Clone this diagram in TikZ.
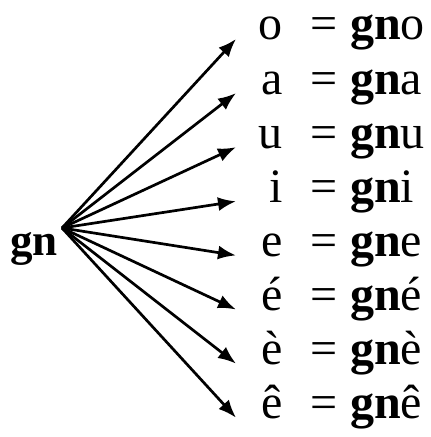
\documentclass[tikz,border=0pt]{standalone}
\usepackage{fontspec}
\setmainfont{Liberation Serif}
\usetikzlibrary{arrows.meta}
\begin{document}
\begin{tikzpicture}[x=1pt,y=1pt,
  txt/.style={inner sep=0, font=\fontsize{48}{58}\selectfont},
  conn/.style={line width=2.7pt, -{Latex[length=18pt,width=14pt]}}]
\useasboundingbox (0,0) rectangle (431,437);
\node[txt, font=\fontsize{45}{54}\selectfont, anchor=base east] (gn) at (58,181) {\textbf{gn}};
\coordinate (src) at (62,209);
\foreach \v [count=\k from 0] in {o,a,u,i,e,é,è,ê} {
  \pgfmathsetmacro\yb{437-40-\k*54.1}
  \node[txt, anchor=base east] (v\k) at (283,\yb) {\v};
  \node[txt, anchor=base] (eq\k) at (324.5,\yb) {=};
  \node[txt, anchor=base west] (w\k) at (350,\yb) {\textbf{gn}\v};
  \coordinate (t\k) at (236,\yb+1);
  \draw[conn] (src) -- (t\k);
}
\end{tikzpicture}
\end{document}
